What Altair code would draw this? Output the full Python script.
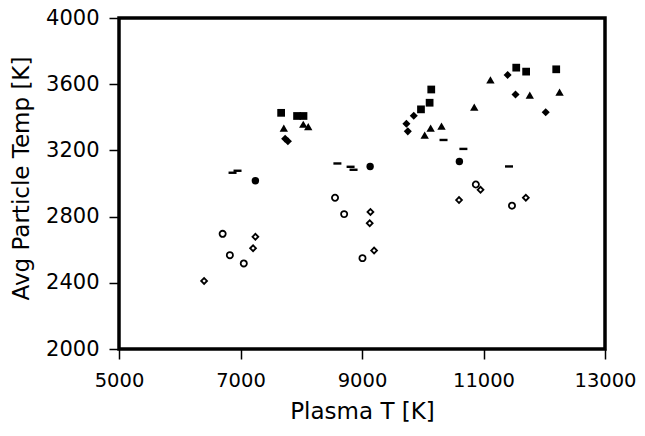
import altair as alt
import pandas as pd

# Filled squares
sq_x = [7669, 7931, 8037, 10140, 10113, 9971, 11539, 11702, 12197]
sq_y = [3427, 3408, 3408, 3568, 3488, 3448, 3700, 3676, 3690]
# Filled triangles
tri_x = [7713, 8033, 8115, 10032, 10130, 10309, 10848, 11114, 11762, 12252]
tri_y = [3334, 3358, 3343, 3293, 3334, 3346, 3462, 3626, 3534, 3552]
# Filled diamonds
dia_x = [7735, 7780, 9852, 9731, 9754, 11397, 11527, 12024]
dia_y = [3270, 3255, 3409, 3361, 3315, 3656, 3538, 3430]
# Filled circles
cir_x = [7245, 9134, 10603]
cir_y = [3017, 3103, 3133]
# Dashes
dash_x = [6869, 6951, 8595, 8812, 8861, 10342, 10669, 11420]
dash_y = [3065, 3077, 3121, 3101, 3083, 3263, 3209, 3103]
# Open circles
ocir_x = [6706, 6825, 7054, 8556, 8706, 9008, 10874, 11469]
ocir_y = [2696, 2567, 2517, 2914, 2815, 2549, 2994, 2866]
# Open diamonds
odia_x = [6401, 7245, 7207, 9139, 9127, 9199, 10597, 10951, 11697]
odia_y = [2411, 2678, 2609, 2828, 2760, 2595, 2900, 2962, 2914]

x_ticks = [5000, 7000, 9000, 11000, 13000]
y_ticks = [2000, 2400, 2800, 3200, 3600, 4000]

FONT = "DejaVu Sans"

xenc = alt.X("x:Q", title="Plasma T [K]",
             scale=alt.Scale(domain=[5000, 13000], nice=False, zero=False),
             axis=alt.Axis(values=x_ticks, format="d", grid=False, domain=False,
                           tickSize=10, tickWidth=1.5, tickColor="black",
                           labelFont=FONT, labelFontSize=19.5, labelColor="black",
                           labelPadding=12, labelFlush=False,
                           titleFont=FONT, titleFontSize=23, titleFontWeight="normal",
                           titleColor="black", titleY=69, titleBaseline="alphabetic"))
yenc = alt.Y("y:Q", title="Avg Particle Temp [K]",
             scale=alt.Scale(domain=[2000, 4000], nice=False, zero=False),
             axis=alt.Axis(values=y_ticks, format="d", grid=False, domain=False,
                           tickSize=10, tickWidth=1.5, tickColor="black",
                           labelFont=FONT, labelFontSize=21, labelColor="black",
                           labelPadding=10, labelFlush=False,
                           titleFont=FONT, titleFontSize=23, titleFontWeight="normal",
                           titleColor="black", titleX=-91, titleY=160,
                           titleBaseline="alphabetic", titleAngle=270))

DASH = "M-1,-0.3H1V0.3H-1Z"


def layer(xs, ys, shape, size, filled, sw=0, first=False):
    df = pd.DataFrame({"x": xs, "y": ys})
    if filled:
        m = alt.Chart(df).mark_point(shape=shape, size=size, filled=True,
                                     color="black", opacity=1)
    else:
        m = alt.Chart(df).mark_point(shape=shape, size=size, filled=False,
                                     stroke="black", strokeWidth=sw, fill="white",
                                     fillOpacity=1, opacity=1)
    if first:
        return m.encode(x=xenc, y=yenc)
    return m.encode(x="x:Q", y="y:Q")


chart = alt.layer(
    layer(ocir_x, ocir_y, "circle", 38, False, 1.8, first=True),
    layer(odia_x, odia_y, "diamond", 34, False, 1.8),
    layer(dash_x, dash_y, DASH, 64, True),
    layer(cir_x, cir_y, "circle", 55, True),
    layer(dia_x, dia_y, "diamond", 65, True),
    layer(tri_x, tri_y, "triangle-up", 70, True),
    layer(sq_x, sq_y, "square", 60, True),
).properties(
    width=486, height=331,
    autosize=alt.AutoSizeParams(type="none"),
    padding={"left": 111, "top": 10, "right": 32, "bottom": 73},
    background="white",
).configure_view(stroke="black", strokeWidth=3.5)

chart.save("out.html", embed_options={"renderer": "svg", "actions": False})
